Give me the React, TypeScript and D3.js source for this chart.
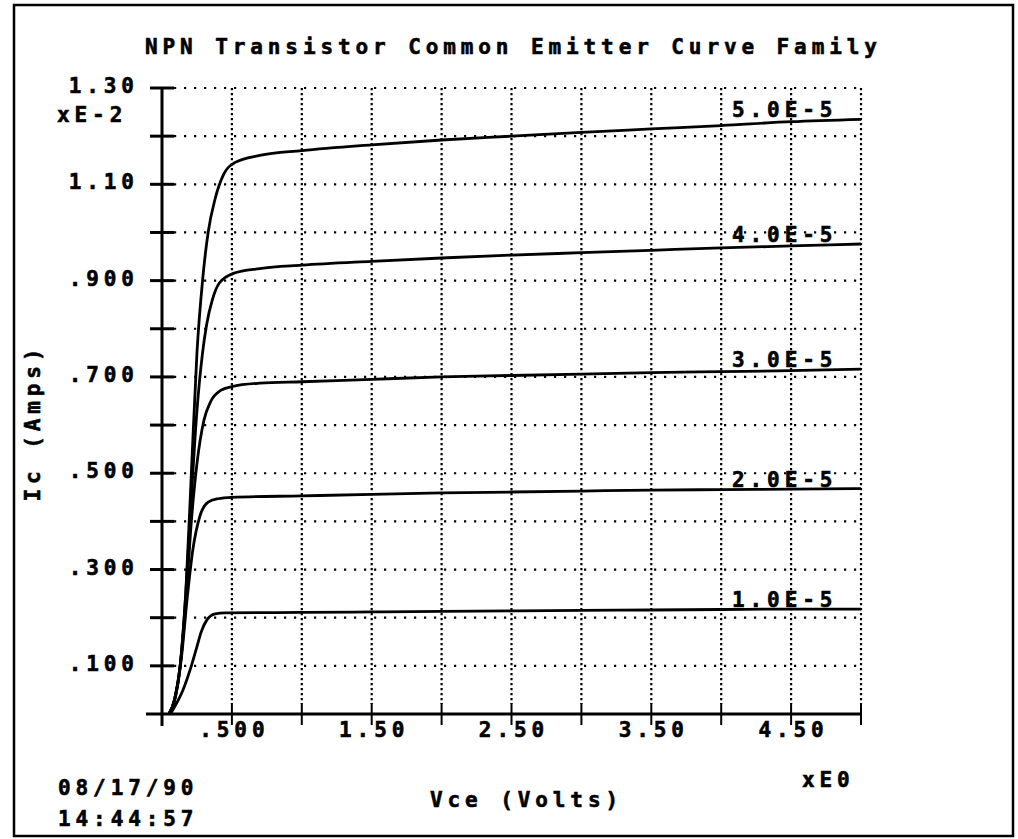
import React, { useEffect, useRef } from 'react';
import * as d3 from 'd3';

// Ic (x1E-2 A) vs Vce (V), one array per base current
const ib1: [number, number][] = [
  [0.06, 0], [0.1, 0.02], [0.15, 0.05], [0.21, 0.1], [0.25, 0.14], [0.28, 0.17], [0.32, 0.195],
  [0.38, 0.208], [0.45, 0.21], [1.0, 0.211], [1.5, 0.212], [2.0, 0.213], [2.5, 0.214],
  [3.0, 0.215], [3.5, 0.216], [4.0, 0.217], [4.5, 0.218], [5.0, 0.218],
];
const ib2: [number, number][] = [
  [0.05, 0], [0.1, 0.04], [0.14, 0.12], [0.18, 0.24], [0.22, 0.34], [0.27, 0.41], [0.33, 0.44],
  [0.4, 0.447], [0.5, 0.45], [1.0, 0.453], [1.5, 0.456], [2.0, 0.459], [2.5, 0.461],
  [3.0, 0.463], [3.5, 0.465], [4.0, 0.466], [4.5, 0.467], [5.0, 0.468],
];
const ib3: [number, number][] = [
  [0.05, 0], [0.09, 0.03], [0.13, 0.1], [0.17, 0.23], [0.21, 0.4], [0.25, 0.52], [0.3, 0.61],
  [0.35, 0.65], [0.42, 0.672], [0.5, 0.68], [0.7, 0.687], [1.0, 0.69], [1.5, 0.695], [2.0, 0.7],
  [2.5, 0.703], [3.0, 0.706], [3.5, 0.709], [4.0, 0.711], [4.5, 0.713], [5.0, 0.716],
];
const ib4: [number, number][] = [
  [0.05, 0], [0.09, 0.03], [0.13, 0.1], [0.17, 0.25], [0.21, 0.45], [0.25, 0.63], [0.29, 0.75],
  [0.32, 0.81], [0.36, 0.86], [0.41, 0.895], [0.51, 0.915], [0.7, 0.925], [1.0, 0.932],
  [1.5, 0.94], [2.0, 0.947], [2.5, 0.953], [3.0, 0.958], [3.5, 0.963], [4.0, 0.968],
  [4.5, 0.972], [5.0, 0.976],
];
const ib5: [number, number][] = [
  [0.05, 0], [0.09, 0.03], [0.13, 0.1], [0.17, 0.25], [0.21, 0.5], [0.25, 0.75], [0.29, 0.9],
  [0.33, 1.0], [0.38, 1.07], [0.44, 1.12], [0.52, 1.145], [0.7, 1.16], [1.0, 1.17],
  [1.5, 1.182], [2.0, 1.192], [2.5, 1.2], [3.0, 1.208], [3.5, 1.215], [4.0, 1.222],
  [4.5, 1.23], [5.0, 1.235],
];
const seriesLabels = ['1.0E-5', '2.0E-5', '3.0E-5', '4.0E-5', '5.0E-5'];

const yTicks = d3.range(0, 14).map(i => i / 10);
const yTickLabels = ['', '.100', '', '.300', '', '.500', '', '.700', '', '.900', '', '1.10', '', '1.30'];
const xTicks = d3.range(0, 11).map(i => i / 2);
const xTickLabels = ['', '.500', '', '1.50', '', '2.50', '', '3.50', '', '4.50', ''];

const App = () => {
  const ref = useRef<HTMLDivElement>(null);

  useEffect(() => {
    const width = 1018;
    const height = 839;
    const font = '"DejaVu Sans Mono", monospace';
    const ls = 4.9;

    d3.select(ref.current).selectAll('*').remove();
    const svg = d3.select(ref.current)
      .append('svg')
      .attr('width', width)
      .attr('height', height)
      .style('display', 'block')
      .style('background', '#fff');

    const x = d3.scaleLinear().domain([0, 5]).range([162, 861]);
    const y = d3.scaleLinear().domain([0, 1.3]).range([714, 88]);

    // outer frame
    svg.append('rect')
      .attr('x', 14).attr('y', 5).attr('width', 999).attr('height', 831)
      .attr('fill', 'none').attr('stroke', '#000').attr('stroke-width', 2.5);

    // dotted grid
    svg.append('g').selectAll('line')
      .data(yTicks.slice(1))
      .enter().append('line')
      .attr('x1', x(0) + 12).attr('x2', x(5))
      .attr('y1', d => y(d)).attr('y2', d => y(d))
      .attr('stroke', '#000').attr('stroke-width', 2.2)
      .attr('stroke-dasharray', '2.2,7.8');
    svg.append('g').selectAll('line')
      .data(xTicks.slice(1))
      .enter().append('line')
      .attr('x1', d => x(d)).attr('x2', d => x(d))
      .attr('y1', y(1.3)).attr('y2', y(0) - 10)
      .attr('stroke', '#000').attr('stroke-width', 2.2)
      .attr('stroke-dasharray', '2.2,2.8');

    // axes
    const axes = svg.append('g').attr('stroke', '#000');
    axes.append('line')
      .attr('x1', x(0)).attr('x2', x(0)).attr('y1', y(1.3)).attr('y2', y(0) + 12)
      .attr('stroke-width', 3);
    axes.append('line')
      .attr('x1', x(0) - 16).attr('x2', x(5)).attr('y1', y(0)).attr('y2', y(0))
      .attr('stroke-width', 3);
    axes.selectAll('.yt')
      .data(yTicks.slice(1))
      .enter().append('line')
      .attr('x1', x(0) - 12).attr('x2', x(0) + 12)
      .attr('y1', d => y(d)).attr('y2', d => y(d))
      .attr('stroke-width', 3);
    axes.selectAll('.xt')
      .data(xTicks.slice(1))
      .enter().append('line')
      .attr('x1', d => x(d)).attr('x2', d => x(d))
      .attr('y1', y(0) - 11).attr('y2', y(0) + 11)
      .attr('stroke-width', 2);

    const text = (s: string, tx: number, ty: number, anchor = 'start') =>
      svg.append('text')
        .text(s)
        .attr('x', anchor === 'end' ? tx + ls : anchor === 'middle' ? tx + ls / 2 : tx)
        .attr('y', ty)
        .attr('text-anchor', anchor)
        .style('font-family', font)
        .style('font-weight', 'bold')
        .style('font-size', '21px')
        .style('letter-spacing', `${ls}px`)
        .style('fill', '#000')
        .style('stroke', '#000')
        .style('stroke-width', 0.6);

    yTicks.forEach((d, i) => {
      if (yTickLabels[i]) text(yTickLabels[i], 134, y(d) + 5, 'end');
    });
    xTicks.forEach((d, i) => {
      if (xTickLabels[i]) text(xTickLabels[i], x(d), 737, 'middle');
    });

    text('NPN Transistor Common Emitter Curve Family', 145, 54);
    text('xE-2', 57, 122);
    text('xE0', 802, 787);
    text('Vce (Volts)', 430, 807);
    text('08/17/90', 58, 795);
    text('14:44:57', 58, 826);
    text('Ic (Amps)', 0, 0, 'middle').attr('transform', 'translate(40,425) rotate(-90)');

    // curves
    const line = d3.line<[number, number]>()
      .x(d => x(d[0]))
      .y(d => y(d[1]))
      .curve(d3.curveMonotoneX);

    const series = [ib1, ib2, ib3, ib4, ib5];
    svg.append('g').selectAll('path')
      .data(series)
      .enter().append('path')
      .attr('d', d => line(d))
      .attr('fill', 'none')
      .attr('stroke', '#000')
      .attr('stroke-width', 2.8)
      .attr('stroke-linejoin', 'round');

    series.forEach((s, i) => {
      text(seriesLabels[i], 732, y(s[s.length - 1][1]) - 2);
    });
  }, []);

  return <div ref={ref} style={{ position: 'absolute', left: 0, top: 0 }}></div>;
};

export default App;
